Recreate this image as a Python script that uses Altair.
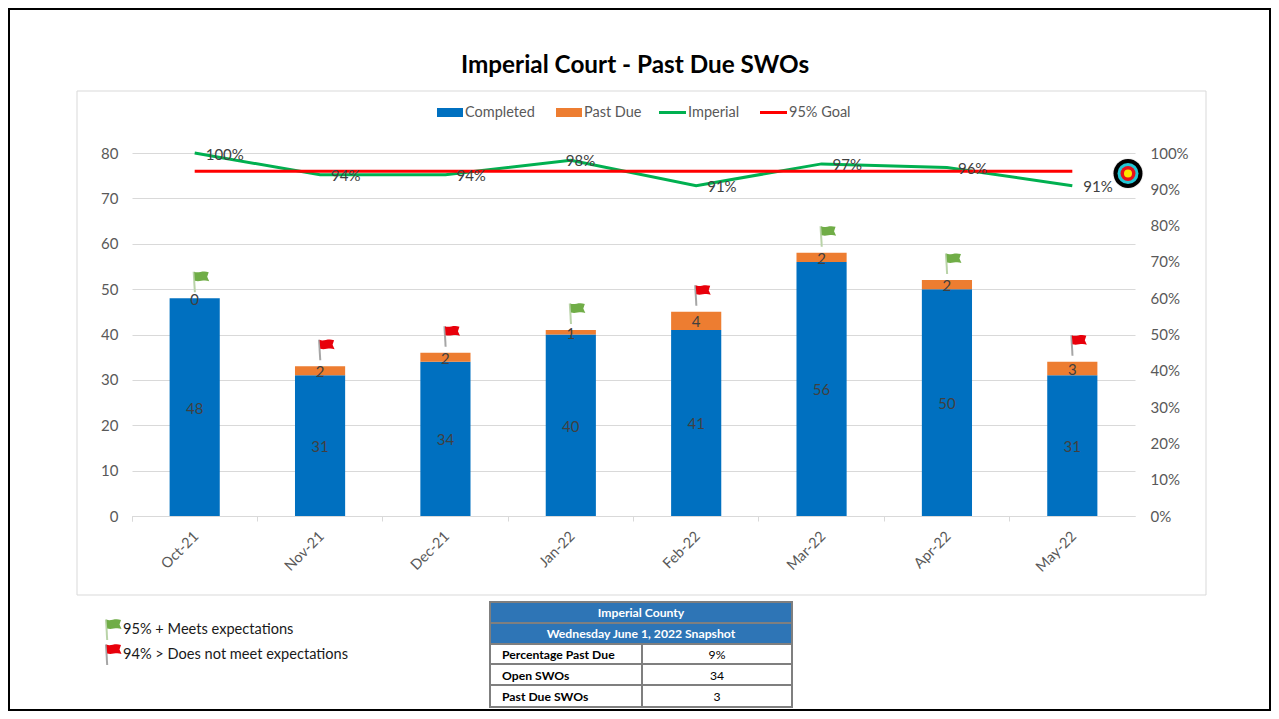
import altair as alt
import pandas as pd

months = ["Oct-21", "Nov-21", "Dec-21", "Jan-22", "Feb-22", "Mar-22", "Apr-22", "May-22"]
completed = [48, 31, 34, 40, 41, 56, 50, 31]
past_due = [0, 2, 2, 1, 4, 2, 2, 3]
imperial = [1.00, 0.94, 0.94, 0.98, 0.91, 0.97, 0.96, 0.91]
goal = [0.95] * 8
meets = [True, False, False, True, False, True, True, False]

legend_names = ["Completed", "Past Due", "Imperial", "95% Goal"]
table_head = ["Imperial County", "Wednesday June 1, 2022 Snapshot"]
table_labels = ["Percentage Past Due", "Open SWOs", "Past Due SWOs"]
table_values = ["9%", "34", "3"]
key_labels = ["95% + Meets expectations", "94% > Does not meet expectations"]

FONT = "Lato"
BLUE, ORANGE, GREEN, RED = "#0070C0", "#ED7D31", "#00B050", "#FF0000"
TXT = "#595959"
OX, OY = 132, 153  # page position of the plot origin
FLAG = "M-0.05,-2.05 C0.35,-1.85 0.75,-2.2 1.4,-2.0 L1.25,-1.55 L1.45,-1.1 C0.9,-1.3 0.5,-1.0 0.02,-1.15 Z"
POLE = "M-0.2,-2.05 L0,-2.05 L0.12,0 L-0.08,0 Z"

df = pd.DataFrame({"month": months, "completed": completed, "past_due": past_due,
                   "imperial": imperial, "goal": goal, "meets": meets})
df["total"] = df.completed + df.past_due
df["mid_c"] = df.completed / 2
df["mid_p"] = df.completed + df.past_due / 2
df["flag"] = df.meets.map({True: "#70AD47", False: "#E8000B"})
df["pole"] = df.meets.map({True: "#B9D3A8", False: "#A6A6A6"})
df["pct"] = df.imperial.map(lambda v: f"{round(v * 100)}%")

X = alt.X("month:N", sort=months, title=None,
          scale=alt.Scale(type="band", domain=months, paddingInner=0, paddingOuter=0),
          axis=alt.Axis(labelAngle=-45, labelAlign="right", labelBaseline="middle", labelPadding=13,
                        labelFont=FONT, labelFontSize=14.5, labelColor=TXT, bandPosition=0, tickExtra=True,
                        tickColor="#D9D9D9", tickSize=5, domainColor="#D9D9D9", grid=False, labelOffset=2))
Xn = X


def yl(field, axis=None):
    return alt.Y(field, type="quantitative", title=None, stack=None, scale=alt.Scale(domain=[0, 80], nice=False), axis=axis)


def yr(field, axis=None):
    return alt.Y(field, type="quantitative", title=None, scale=alt.Scale(domain=[0, 1], nice=False), axis=axis)


base = alt.Chart(df)
blank = alt.Chart(alt.Data(values=[{"k": 0}]))


def box(x0, y0, x1, y1, **kw):
    return blank.mark_rect(**kw).encode(x=alt.value(x0 - OX), x2=alt.value(x1 - OX), y=alt.value(y0 - OY), y2=alt.value(y1 - OY))


def hline(x0, x1, y, color, w):
    return blank.mark_rule(color=color, strokeWidth=w).encode(x=alt.value(x0 - OX), x2=alt.value(x1 - OX), y=alt.value(y - OY))


def vline(x, y0, y1, color, w):
    return blank.mark_rule(color=color, strokeWidth=w).encode(x=alt.value(x - OX), y=alt.value(y0 - OY), y2=alt.value(y1 - OY))


def label(txt, x, y, size=14.5, color=TXT, align="left", weight="normal"):
    return blank.mark_text(font=FONT, fontSize=size, color=color, align=align, baseline="middle", fontWeight=weight).encode(
        x=alt.value(x - OX), y=alt.value(y - OY), text=alt.value(txt))


def key_flag(x, y, color, pole):
    out = []
    for path, c in ((POLE, pole), (FLAG, color)):
        out.append(blank.mark_point(shape=path, filled=True, size=400, color=c, opacity=1).encode(
            x=alt.value(x - OX), y=alt.value(y - OY)))
    return out


layers = []
# frame and chart box
layers.append(box(9, 9, 1270, 710, fill="transparent", stroke="#000000", strokeWidth=2))
layers.append(box(77, 91, 1206, 595, fill="transparent", stroke="#D9D9D9", strokeWidth=1))

# bars, with both axes' left one
left_axis = alt.Axis(values=list(range(0, 81, 10)), domain=False, ticks=False, labelFont=FONT, labelFontSize=15,
                     labelColor=TXT, labelPadding=14, gridColor="#D9D9D9", grid=True)
layers.append(base.mark_bar(color=BLUE, width={"band": 0.4}).encode(x=X, y=yl("completed", left_axis)))
layers.append(base.mark_bar(color=ORANGE, width={"band": 0.4}).encode(x=Xn, y=yl("completed"), y2="total:Q"))
for f, t in (("mid_c", "completed"), ("mid_p", "past_due")):
    layers.append(base.mark_text(font=FONT, fontSize=15, color="#404040", dy=1.5).encode(x=Xn, y=yl(f), text=alt.Text(t + ":Q")))

# flags above each stack
for path, field in ((POLE, "pole"), (FLAG, "flag")):
    layers.append(base.mark_point(shape=path, filled=True, size=400, opacity=1, yOffset=-6).encode(
        x=Xn, y=yl("total"), color=alt.Color(field + ":N", scale=None)))

# lines
right_axis = alt.Axis(values=[i / 10 for i in range(11)], format=".0%", orient="right", domain=False, ticks=False, grid=False,
                      labelFont=FONT, labelFontSize=15, labelColor=TXT, labelPadding=15)
layers.append(base.mark_line(color=GREEN, strokeWidth=3).encode(x=Xn, y=yr("imperial", right_axis)))
layers.append(base.mark_line(color=RED, strokeWidth=3).encode(x=Xn, y=yr("goal")))
layers.append(base.transform_filter("datum.month !== 'Jan-22'").mark_text(
    font=FONT, fontSize=15, color="#404040", align="left", dx=11, dy=1.5).encode(x=Xn, y=yr("imperial"), text="pct:N"))
layers.append(base.transform_filter("datum.month === 'Jan-22'").mark_text(
    font=FONT, fontSize=15, color="#404040", align="left", dx=-5, dy=1).encode(x=Xn, y=yr("imperial"), text="pct:N"))

# target icon
for r, c in ((15.5, "#F2F2F2"), (14.5, "#000000"), (10.5, "#22C7D6"), (7.5, "#E8101A"), (4, "#FFE600")):
    layers.append(blank.mark_point(shape="circle", filled=True, opacity=1, color=c, size=(2 * r) ** 2).encode(
        x=alt.value(1128 - OX), y=alt.value(173.5 - OY)))

# legend
layers.append(box(437, 108, 463, 117, fill=BLUE))
layers.append(box(556, 108, 582, 117, fill=ORANGE))
layers.append(hline(659, 686, 112.5, GREEN, 3))
layers.append(hline(760, 787, 112.5, RED, 3))
for name, x in zip(legend_names, (465, 584, 688, 789)):
    layers.append(label(name, x, 112.5))

# title
layers.append(label("Imperial Court - Past Due SWOs", 635, 66, size=24.3, color="#000000", align="center", weight="bold"))

# key below the chart
layers += key_flag(107, 640, "#70AD47", "#B9D3A8")
layers += key_flag(107, 665, "#E8000B", "#A6A6A6")
layers.append(label(key_labels[0], 123, 630, size=14.6, color="#1A1A1A"))
layers.append(label(key_labels[1], 123, 655, size=14.6, color="#1A1A1A"))

# snapshot table
TL, TM, TR = 490, 642, 792
rows = [602, 623, 644, 664, 685, 707]
layers.append(box(TL, rows[0], TR, rows[2], fill="#2E75B6"))
for y in rows:
    layers.append(hline(TL, TR, y, "#7F7F7F", 2))
for x in (TL, TR):
    layers.append(vline(x, rows[0] - 1, rows[-1] + 1, "#7F7F7F", 2))
layers.append(vline(TM, rows[2], rows[-1], "#7F7F7F", 2))
for i, t in enumerate(table_head):
    layers.append(label(t, 641, (rows[i] + rows[i + 1]) / 2, size=12.2, color="#FFFFFF", align="center", weight="bold"))
for i, (a, b) in enumerate(zip(table_labels, table_values)):
    yc = (rows[i + 2] + rows[i + 3]) / 2 + 1
    layers.append(label(a, 502, yc, size=12.2, color="#000000", weight="bold"))
    layers.append(label(b, 717, yc, size=12.2, color="#000000", align="center"))

chart = alt.layer(*layers).resolve_scale(y="independent").properties(
    width=1003, height=363, background="white",
    padding={"left": 124, "top": 145, "right": 136, "bottom": 195},
    autosize=alt.AutoSizeParams(type="none"),
).configure_view(stroke=None)

chart.save("out.html", embed_options={"renderer": "svg", "actions": False})
